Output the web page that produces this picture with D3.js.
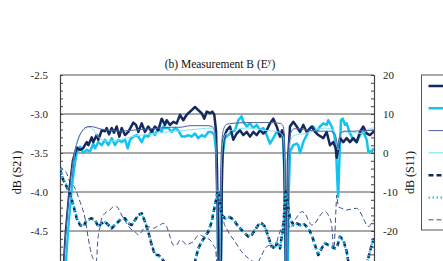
<!DOCTYPE html>
<html>
<head>
<meta charset="utf-8">
<script src="https://cdn.jsdelivr.net/npm/d3@7"></script>
<style>
  body { margin: 0; background: #fff; }
  svg { display: block; font-family: "Liberation Serif", "Times New Roman", serif; }
</style>
</head>
<body>
<svg></svg>
<script>
// frequency axis has no visible ticks, x is an arbitrary sweep index
const leftTicks = [-2.5, -3.0, -3.5, -4.0, -4.5];
const rightTicks = [20, 10, 0, -10, -20];

// S21, measured (thick) and simulated (thin), left axis
const s21MeasNavy = [[0.3,-5.1],[0.6,-4.49],[1.0,-3.91],[1.3,-3.59],[1.67,-3.43],[2.0,-3.46],[2.3,-3.44],[2.67,-3.36],[2.83,-3.40],[3.17,-3.30],[3.33,-3.36],[3.67,-3.27],[3.83,-3.33],[4.17,-3.21],[4.5,-3.22],[4.67,-3.18],[4.9,-3.26],[5.17,-3.18],[5.4,-3.24],[5.67,-3.16],[5.93,-3.29],[6.17,-3.18],[6.5,-3.27],[6.83,-3.23],[7.33,-3.11],[7.6,-3.14],[7.83,-3.23],[8.17,-3.12],[8.5,-3.23],[8.83,-3.16],[9.17,-3.23],[9.5,-3.16],[9.83,-3.21],[10.17,-3.06],[10.5,-3.14],[10.67,-3.08],[11.0,-3.14],[11.33,-3.10],[11.67,-3.12],[12.0,-3.01],[12.33,-3.08],[12.67,-3.01],[12.83,-2.99],[13.17,-2.95],[13.5,-2.91],[13.83,-2.95],[14.17,-2.99],[14.43,-3.06],[14.67,-2.97],[15.0,-2.99],[15.23,-2.97],[15.43,-3.01],[15.6,-3.21],[15.7,-3.72],[15.8,-4.49],[15.9,-5.3],[16.0,-5.6],[16.1,-4.8],[16.2,-3.7],[16.33,-3.33],[16.67,-3.21],[17.0,-3.16],[17.33,-3.33],[17.67,-3.25],[18.0,-3.21],[18.33,-3.27],[18.67,-3.23],[19.0,-3.29],[19.33,-3.23],[19.67,-3.27],[20.0,-3.21],[20.33,-3.25],[20.67,-3.21],[21.0,-3.12],[21.33,-3.06],[21.67,-3.16],[22.0,-3.29],[22.2,-3.21],[22.35,-3.27],[22.45,-3.72],[22.55,-4.49],[22.63,-5.4],[22.72,-4.49],[22.8,-3.59],[23.0,-3.16],[23.33,-3.10],[23.67,-3.16],[24.0,-3.23],[24.33,-3.14],[24.67,-3.23],[25.17,-3.16],[25.5,-3.23],[25.83,-3.27],[26.33,-3.31],[26.67,-3.23],[27.0,-3.40],[27.33,-3.36],[27.57,-3.44],[27.67,-3.56],[27.77,-3.48],[28.0,-3.31],[28.33,-3.36],[28.67,-3.31],[29.0,-3.36],[29.33,-3.31],[29.67,-3.36],[30.0,-3.23],[30.33,-3.16],[30.67,-3.25],[31.0,-3.27],[31.33,-3.23],[31.4,-3.24]];

const s21MeasCyan = [[0.4,-5.26],[0.8,-4.49],[1.2,-3.91],[1.5,-3.62],[1.67,-3.50],[2.0,-3.42],[2.33,-3.50],[2.67,-3.46],[3.0,-3.48],[3.33,-3.38],[3.5,-3.44],[3.83,-3.36],[4.17,-3.40],[4.5,-3.33],[4.83,-3.40],[5.17,-3.31],[5.5,-3.40],[5.83,-3.33],[6.17,-3.36],[6.5,-3.33],[6.77,-3.44],[7.0,-3.33],[7.33,-3.29],[7.67,-3.27],[7.83,-3.29],[8.17,-3.36],[8.5,-3.27],[8.83,-3.29],[9.17,-3.21],[9.5,-3.27],[9.83,-3.18],[10.17,-3.23],[10.33,-3.16],[10.5,-3.18],[10.83,-3.18],[11.17,-3.23],[11.5,-3.18],[11.83,-3.21],[12.17,-3.29],[12.5,-3.29],[12.83,-3.27],[13.17,-3.29],[13.5,-3.25],[13.83,-3.31],[14.17,-3.27],[14.5,-3.29],[14.83,-3.23],[15.17,-3.23],[15.43,-3.27],[15.6,-3.46],[15.75,-4.36],[15.9,-5.4],[16.05,-5.4],[16.15,-4.1],[16.25,-3.53],[16.5,-3.31],[16.83,-3.27],[17.17,-3.23],[17.5,-3.21],[17.83,-3.08],[18.17,-3.03],[18.33,-3.10],[18.67,-3.16],[19.0,-3.12],[19.33,-3.18],[19.67,-3.14],[20.0,-3.21],[20.33,-3.18],[20.67,-3.27],[21.0,-3.38],[21.33,-3.31],[21.67,-3.23],[22.0,-3.27],[22.3,-3.31],[22.43,-3.72],[22.53,-4.74],[22.63,-5.4],[22.75,-5.4],[22.85,-4.1],[23.0,-3.48],[23.33,-3.40],[23.67,-3.38],[23.83,-3.40],[24.0,-3.50],[24.33,-3.36],[24.67,-3.27],[25.0,-3.18],[25.33,-3.16],[25.67,-3.23],[26.0,-3.16],[26.33,-3.12],[26.67,-3.14],[26.83,-3.08],[27.17,-3.16],[27.43,-3.27],[27.6,-3.44],[27.73,-3.85],[27.82,-4.06],[27.9,-3.72],[28.0,-3.40],[28.1,-3.08],[28.27,-3.06],[28.5,-3.14],[28.67,-3.12],[28.93,-3.23],[29.17,-3.29],[29.33,-3.33],[29.67,-3.36],[30.0,-3.27],[30.33,-3.23],[30.67,-3.33],[30.83,-3.48],[31.17,-3.48],[31.4,-3.44]];

const s21SimNavy = [[0.2,-5.26],[0.6,-4.49],[1.0,-3.91],[1.4,-3.53],[1.8,-3.33],[2.2,-3.22],[2.6,-3.17],[3.0,-3.16],[3.5,-3.17],[4.0,-3.19],[5.0,-3.21],[6.0,-3.22],[7.0,-3.21],[8.0,-3.20],[9.0,-3.19],[10.0,-3.18],[11.0,-3.17],[12.0,-3.17],[13.0,-3.15],[14.0,-3.15],[14.8,-3.15],[15.2,-3.16],[15.45,-3.21],[15.6,-3.40],[15.7,-4.10],[15.8,-5.26],[15.88,-5.77],[15.96,-4.74],[16.05,-3.85],[16.2,-3.33],[16.4,-3.18],[16.7,-3.13],[17.2,-3.12],[19.0,-3.11],[21.0,-3.11],[22.0,-3.12],[22.3,-3.15],[22.45,-3.33],[22.55,-4.10],[22.63,-5.26],[22.7,-4.36],[22.8,-3.59],[23.0,-3.27],[23.4,-3.19],[24.0,-3.19],[25.0,-3.21],[26.0,-3.22],[27.0,-3.22],[27.5,-3.26],[27.7,-3.37],[27.8,-3.44],[27.9,-3.33],[28.1,-3.24],[28.5,-3.22],[29.5,-3.22],[30.5,-3.21],[31.4,-3.21]];

const s21SimCyan = [[0.3,-5.26],[0.7,-4.49],[1.0,-4.04],[1.17,-3.78],[1.5,-3.48],[1.83,-3.31],[2.33,-3.21],[2.83,-3.17],[3.17,-3.18],[3.67,-3.27],[4.17,-3.33],[4.83,-3.35],[6.0,-3.33],[7.5,-3.28],[9.0,-3.26],[10.8,-3.23],[12.5,-3.21],[14.0,-3.19],[15.17,-3.18],[15.43,-3.23],[15.6,-3.46],[15.72,-4.36],[15.82,-5.4],[15.92,-5.77],[16.02,-4.74],[16.12,-3.78],[16.25,-3.40],[16.5,-3.27],[17.17,-3.21],[18.83,-3.18],[20.5,-3.21],[21.83,-3.23],[22.33,-3.29],[22.45,-3.59],[22.55,-4.49],[22.65,-5.4],[22.73,-4.49],[22.83,-3.65],[23.0,-3.36],[23.5,-3.27],[24.5,-3.25],[26.5,-3.18],[27.4,-3.21],[27.65,-3.33],[27.8,-3.46],[27.95,-3.31],[28.2,-3.23],[29.0,-3.23],[30.17,-3.25],[31.17,-3.18],[31.4,-3.18]];

// S11, right axis
const s11MeasNavy = [[0,-4.36],[0.33,-6.92],[0.67,-8.64],[1.0,-10.33],[1.33,-13.33],[1.67,-16.74],[2.0,-18.46],[2.33,-18.90],[2.67,-17.18],[3.17,-16.74],[3.5,-17.18],[3.83,-18.90],[4.17,-18.03],[4.5,-17.62],[4.83,-18.46],[5.17,-19.31],[5.5,-18.46],[5.83,-17.62],[6.17,-16.74],[6.5,-16.74],[6.83,-18.03],[7.17,-18.46],[7.5,-17.18],[7.83,-15.90],[8.17,-15.46],[8.5,-17.62],[8.83,-20.18],[9.17,-23.59],[9.5,-26.15],[9.83,-26.15],[10.17,-27.0],[10.5,-28.2],[11.0,-30.5],[11.8,-32.1],[12.6,-31.3],[13.2,-29.5],[13.5,-27.87],[13.83,-24.44],[14.17,-22.74],[14.5,-21.46],[14.83,-20.18],[15.17,-17.62],[15.5,-13.33],[15.77,-9.92],[15.85,-9.5],[16.0,-13.33],[16.17,-15.90],[16.5,-16.74],[16.83,-16.33],[17.17,-16.74],[17.5,-17.62],[17.83,-18.90],[18.17,-19.74],[18.5,-20.59],[18.83,-21.46],[19.17,-21.03],[19.5,-19.74],[19.83,-18.46],[20.17,-18.03],[20.5,-18.90],[20.83,-21.46],[21.17,-24.0],[21.5,-24.44],[21.67,-23.15],[21.83,-23.59],[22.0,-24.44],[22.17,-21.46],[22.33,-19.31],[22.5,-11.62],[22.57,-9.92],[22.65,-10.77],[22.83,-14.18],[23.0,-16.74],[23.33,-18.46],[23.67,-18.03],[24.0,-18.46],[24.33,-18.03],[24.83,-19.31],[25.17,-21.03],[25.5,-23.59],[25.83,-26.15],[26.17,-24.44],[26.5,-23.15],[26.83,-23.59],[27.17,-24.0],[27.43,-24.44],[27.67,-24.44],[28.0,-21.46],[28.33,-22.31],[28.67,-25.31],[28.83,-27.87],[29.2,-30.5],[29.8,-32.1],[30.4,-31.0],[30.83,-27.0],[31.17,-23.59],[31.4,-21.87]];

const s11MeasCyan = [[0,-4.0],[0.33,-6.6],[0.67,-8.4],[1.0,-10.2],[1.33,-13.1],[1.67,-16.5],[2.0,-18.3],[2.33,-18.8],[2.67,-17.3],[3.17,-16.9],[3.5,-17.3],[3.83,-18.7],[4.17,-18.1],[4.5,-17.7],[4.83,-18.4],[5.17,-19.1],[5.5,-18.5],[5.83,-17.7],[6.17,-16.9],[6.5,-16.9],[6.83,-18.0],[7.17,-18.3],[7.5,-17.3],[7.83,-16.1],[8.17,-15.7],[8.5,-17.5],[8.83,-20.0],[9.17,-23.3],[9.5,-25.9],[9.83,-26.3],[10.17,-27.2],[10.5,-28.4],[11.0,-30.6],[11.8,-32.0],[12.6,-31.1],[13.2,-29.2],[13.5,-27.6],[13.83,-24.3],[14.17,-22.6],[14.5,-21.3],[14.83,-20.0],[15.17,-17.4],[15.5,-13.1],[15.77,-9.8],[15.85,-9.6],[16.0,-13.5],[16.17,-16.0],[16.5,-16.9],[16.83,-16.4],[17.17,-16.8],[17.5,-17.7],[17.83,-19.0],[18.17,-19.8],[18.5,-20.5],[18.83,-21.3],[19.17,-20.9],[19.5,-19.6],[19.83,-18.4],[20.17,-18.1],[20.5,-19.0],[20.83,-21.6],[21.17,-24.1],[21.5,-24.3],[21.67,-23.0],[21.83,-23.7],[22.0,-24.3],[22.17,-21.3],[22.33,-19.2],[22.5,-11.8],[22.57,-10.1],[22.65,-10.9],[22.83,-14.3],[23.0,-16.9],[23.33,-18.6],[23.67,-18.2],[24.0,-18.6],[24.33,-18.2],[24.83,-19.5],[25.17,-21.2],[25.5,-23.8],[25.83,-26.0],[26.17,-24.3],[26.5,-23.0],[26.83,-23.7],[27.17,-24.1],[27.43,-24.6],[27.67,-24.3],[28.0,-21.6],[28.33,-22.5],[28.67,-25.5],[28.83,-28.0],[29.2,-30.6],[29.8,-32.0],[30.4,-30.8],[30.83,-26.8],[31.17,-23.4],[31.4,-21.7]];

const s11SimNavy = [[0,-3.3],[0.17,-3.92],[0.67,-5.21],[0.83,-6.49],[1.5,-9.05],[2.0,-12.49],[2.5,-16.74],[2.83,-21.87],[3.17,-26.15],[3.43,-27.87],[3.55,-29.0],[3.67,-27.0],[3.77,-22.74],[4.0,-18.90],[4.17,-16.74],[4.5,-15.46],[5.0,-14.62],[5.33,-13.77],[5.67,-13.77],[6.0,-15.05],[6.33,-16.74],[6.67,-18.03],[7.17,-19.74],[7.67,-20.59],[7.83,-21.03],[8.17,-20.18],[8.5,-18.90],[8.83,-18.90],[9.33,-19.31],[9.67,-18.90],[10.0,-18.46],[10.33,-18.03],[10.67,-18.90],[11.0,-21.46],[11.33,-23.59],[11.67,-23.59],[12.0,-22.31],[12.33,-22.74],[12.67,-23.59],[13.0,-23.15],[13.33,-22.74],[13.67,-21.46],[14.0,-21.03],[14.33,-21.46],[15.0,-22.31],[15.33,-23.59],[15.57,-24.87],[15.67,-27.9],[15.75,-21.0],[15.85,-13.33],[15.95,-10.77],[16.1,-12.8],[16.33,-17.18],[16.83,-20.18],[17.5,-22.74],[18.17,-25.31],[18.83,-27.0],[19.33,-27.87],[19.7,-28.2],[20.17,-26.15],[20.67,-24.0],[21.17,-23.59],[21.5,-24.0],[21.83,-21.46],[22.17,-18.90],[22.5,-15.90],[22.65,-13.33],[22.8,-15.90],[23.0,-19.31],[23.5,-17.18],[23.83,-15.90],[24.17,-15.05],[24.5,-15.46],[24.83,-17.18],[25.17,-18.46],[25.5,-18.03],[25.83,-16.74],[26.17,-15.46],[26.5,-15.05],[26.83,-15.90],[27.1,-17.62],[27.23,-20.18],[27.33,-24.0],[27.4,-24.44],[27.5,-20.18],[27.6,-14.18],[27.67,-10.77],[27.83,-13.77],[28.17,-14.18],[28.67,-14.62],[29.17,-14.36],[29.67,-14.18],[30.0,-15.05],[30.33,-16.74],[30.67,-18.46],[30.9,-18.90],[31.17,-17.62],[31.4,-17.18]];

const svg = d3.select("svg");
svg.attr("width", 443).attr("height", 261);

const plot = { left: 60, top: 75, width: 314, height: 195 };

const xScale = d3.scaleLinear().domain([0, 31.4]).range([0, plot.width]);
const yLeft = d3.scaleLinear().domain([-5, -2.5]).range([plot.height, 0]);
const yRight = d3.scaleLinear().domain([-30, 20]).range([plot.height, 0]);

const g = svg.append("g").attr("transform", `translate(${plot.left}, ${plot.top})`);

svg.append("defs").append("clipPath").attr("id", "clip")
  .append("rect").attr("width", plot.width).attr("height", plot.height);

// horizontal grid at the labelled S21 values
g.append("g")
  .selectAll("line")
  .data(leftTicks.slice(1))
  .enter()
  .append("line")
  .attr("x1", 0)
  .attr("x2", plot.width)
  .attr("y1", (d) => yLeft(d))
  .attr("y2", (d) => yLeft(d))
  .attr("stroke", "#8a8a8a")
  .attr("stroke-width", 1.6);

g.append("line")
  .attr("x1", 0).attr("x2", plot.width)
  .attr("y1", 0).attr("y2", 0)
  .attr("stroke", "#555").attr("stroke-width", 1.2);

// left axis: minor ticks every 0.1, labels every 0.5
const yAxisLeft = d3.axisLeft(yLeft)
  .tickValues(d3.range(0, 26).map((i) => -5 + i * 0.1))
  .tickSize(-3)
  .tickPadding(12)
  .tickFormat((d) => (leftTicks.some((t) => Math.abs(t - d) < 1e-6) ? d.toFixed(1) : ""));

const yAxisRight = d3.axisRight(yRight)
  .tickValues(d3.range(0, 26).map((i) => -30 + i * 2))
  .tickSize(-3)
  .tickPadding(9)
  .tickFormat((d) => (rightTicks.includes(d) ? String(d) : ""));

const leftG = g.append("g").call(yAxisLeft);
const rightG = g.append("g").attr("transform", `translate(${plot.width}, 0)`).call(yAxisRight);

[leftG, rightG].forEach((a) => {
  a.select(".domain").attr("stroke", "#444").attr("stroke-width", 1.2);
  a.selectAll(".tick line").attr("stroke", "#444");
  a.selectAll(".tick text")
    .attr("fill", "#222")
    .style("font-family", "Liberation Serif")
    .style("font-size", "11px");
});

// lines
const lineLeft = (curve) => d3.line()
  .x((d) => xScale(d[0]))
  .y((d) => yLeft(d[1]))
  .curve(curve);
const lineRight = (curve) => d3.line()
  .x((d) => xScale(d[0]))
  .y((d) => yRight(d[1]))
  .curve(curve);

const navy = "#142a5e";
const cyan = "#12c3f2";
const simNavy = "#4d5f9e";
const simCyan = "#86e2f7";
const simDash = "#3a4f86";

const series = [
  { data: s11SimNavy, line: lineRight(d3.curveMonotoneX), color: simDash, width: 1, dash: "5,3" },
  { data: s21MeasCyan, line: lineLeft(d3.curveLinear), color: cyan, width: 2.5, dash: null },
  { data: s21MeasNavy, line: lineLeft(d3.curveLinear), color: navy, width: 2.5, dash: null },
  { data: s21SimCyan, line: lineLeft(d3.curveMonotoneX), color: simCyan, width: 1, dash: null },
  { data: s21SimNavy, line: lineLeft(d3.curveMonotoneX), color: simNavy, width: 1, dash: null },
  { data: s11MeasNavy, line: lineRight(d3.curveLinear), color: navy, width: 2.6, dash: "5,3" },
  { data: s11MeasCyan, line: lineRight(d3.curveLinear), color: cyan, width: 2.2, dash: "1.5,2.5" },
];

const linesG = g.append("g").attr("clip-path", "url(#clip)");
series.forEach((s) => {
  linesG.append("path")
    .attr("d", s.line(s.data))
    .attr("fill", "none")
    .attr("stroke", s.color)
    .attr("stroke-width", s.width)
    .attr("stroke-dasharray", s.dash)
    .attr("stroke-linejoin", "round");
});

// title and axis names
const title = svg.append("text")
  .attr("x", plot.left + plot.width / 2 + 3)
  .attr("y", 68)
  .attr("text-anchor", "middle")
  .style("font-size", "11.5px")
  .attr("fill", "#111");
title.append("tspan").text("(b) Measurement B (E");
title.append("tspan").attr("dy", -4).style("font-size", "7.5px").text("y");
title.append("tspan").attr("dy", 4).text(")");

svg.append("text")
  .attr("transform", `translate(17, ${plot.top + plot.height / 2}) rotate(-90)`)
  .attr("text-anchor", "middle")
  .attr("dy", "0.35em")
  .style("font-size", "12px")
  .attr("fill", "#111")
  .text("dB (S21)");

svg.append("text")
  .attr("transform", `translate(410, ${plot.top + plot.height / 2}) rotate(-90)`)
  .attr("text-anchor", "middle")
  .attr("dy", "0.35em")
  .style("font-size", "12px")
  .attr("fill", "#111")
  .text("dB (S11)");

// legend (labels fall outside the visible area)
const legendG = svg.append("g").attr("transform", "translate(421.5, 75)");
legendG.append("rect")
  .attr("width", 60)
  .attr("height", 155)
  .attr("fill", "#fff")
  .attr("stroke", "#555")
  .attr("stroke-width", 1);

const legendOrder = [
  { color: navy, width: 2.5, dash: null },
  { color: cyan, width: 2.5, dash: null },
  { color: simNavy, width: 1, dash: null },
  { color: simCyan, width: 1.2, dash: null },
  { color: navy, width: 2.6, dash: "5,3" },
  { color: cyan, width: 2, dash: "1.5,2.5" },
  { color: simDash, width: 1, dash: "5,3" },
];
legendG.selectAll("line.sample")
  .data(legendOrder)
  .enter()
  .append("line")
  .attr("class", "sample")
  .attr("x1", 7)
  .attr("x2", 40)
  .attr("y1", (d, i) => 11 + i * 22.3)
  .attr("y2", (d, i) => 11 + i * 22.3)
  .attr("stroke", (d) => d.color)
  .attr("stroke-width", (d) => d.width)
  .attr("stroke-dasharray", (d) => d.dash);
</script>
</body>
</html>
